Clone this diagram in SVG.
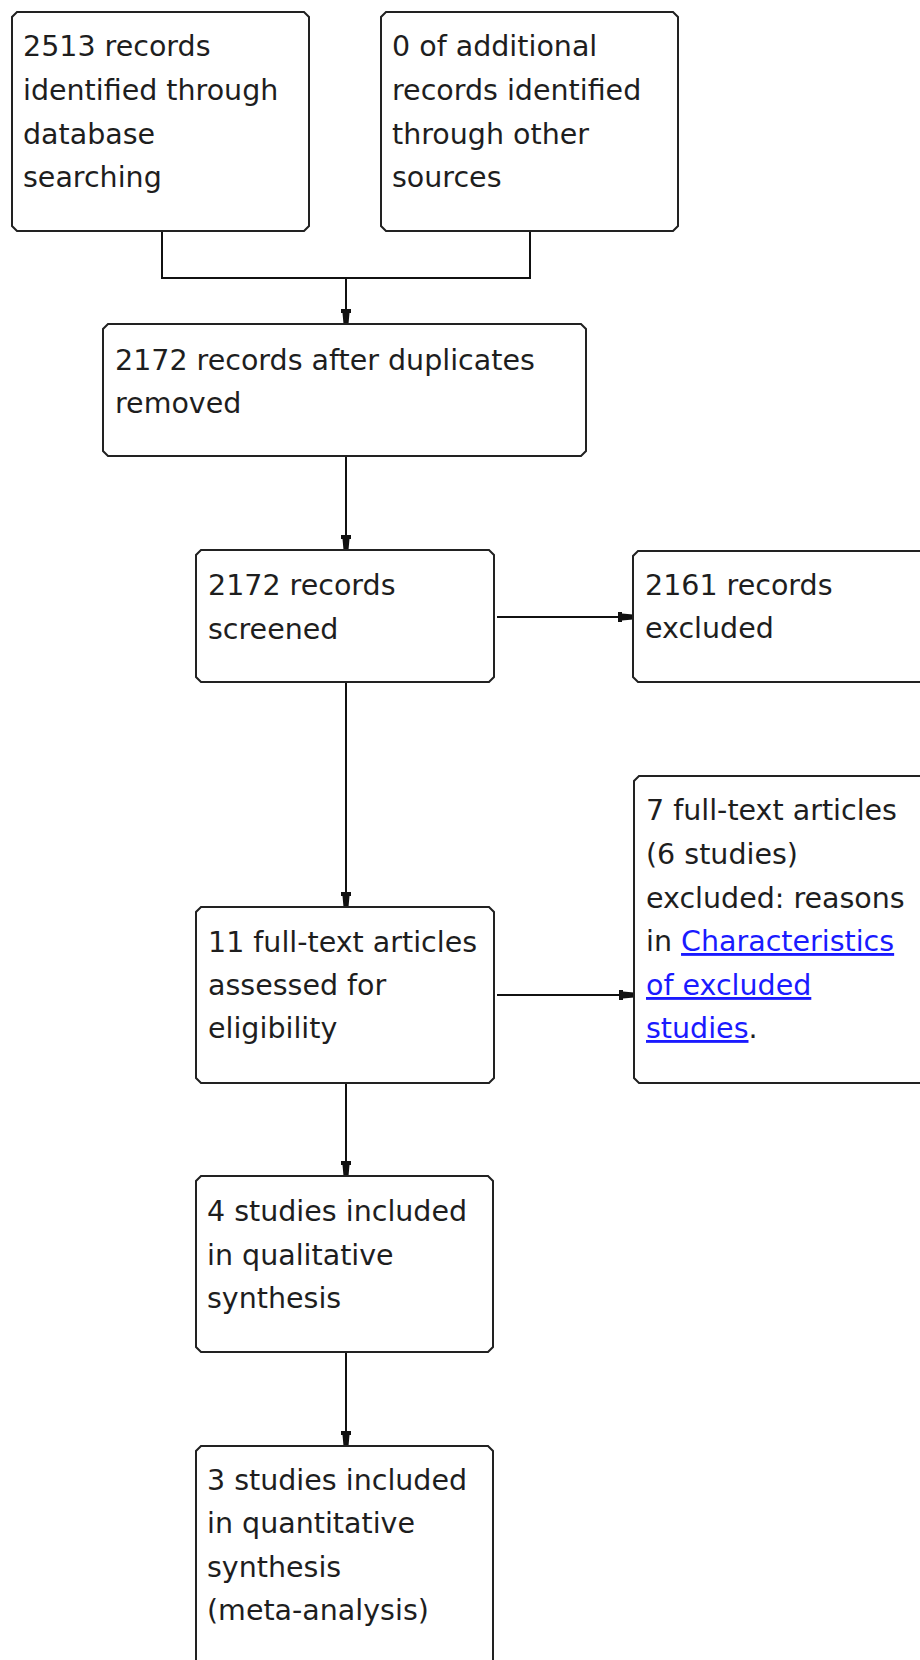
<svg xmlns="http://www.w3.org/2000/svg" width="920" height="1660" viewBox="0 0 920 1660">
<style>
.box{fill:#fff;stroke:#222;stroke-width:2}
.t{font-family:"DejaVu Sans",Verdana,sans-serif;font-size:28.5px;fill:#1e1e1e}
.link{fill:#1a1aff;text-decoration:underline}
.conn{fill:none;stroke:#111;stroke-width:2}
</style>
<defs>
<marker id="arr" markerUnits="userSpaceOnUse" markerWidth="20" markerHeight="14" viewBox="0 -7 16 14" refX="15" refY="0" orient="auto">
<path d="M0,-5 L4,-5 L4,-3.5 L15,-2.5 L15,2.5 L4,3.5 L4,5 L0,5 Z" fill="#111"/>
</marker>
</defs>
<rect width="920" height="1660" fill="#fff"/>

<g id="connectors">
<path class="conn" d="M162,231 V278 H530 V231"/>
<path class="conn" d="M346,278 V324" marker-end="url(#arr)"/>
<path class="conn" d="M346,456 V550" marker-end="url(#arr)"/>
<path class="conn" d="M497,617 H633" marker-end="url(#arr)"/>
<path class="conn" d="M346,682 V907" marker-end="url(#arr)"/>
<path class="conn" d="M497,995 H634" marker-end="url(#arr)"/>
<path class="conn" d="M346,1083 V1176" marker-end="url(#arr)"/>
<path class="conn" d="M346,1352 V1446" marker-end="url(#arr)"/>
</g>

<g id="node-identified">
<path class="box" d="M17,12 H304 L309,17 V226 L304,231 H17 L12,226 V17 Z"/>
<text class="t" x="23" y="56">2513 records</text>
<text class="t" x="23" y="100">identified through</text>
<text class="t" x="23" y="144">database</text>
<text class="t" x="23" y="187">searching</text>
</g>

<g id="node-additional">
<path class="box" d="M386,12 H673 L678,17 V226 L673,231 H386 L381,226 V17 Z"/>
<text class="t" x="392" y="56">0 of additional</text>
<text class="t" x="392" y="100">records identified</text>
<text class="t" x="392" y="144">through other</text>
<text class="t" x="392" y="187">sources</text>
</g>

<g id="node-duplicates">
<path class="box" d="M108,324 H581 L586,329 V451 L581,456 H108 L103,451 V329 Z"/>
<text class="t" x="115" y="370">2172 records after duplicates</text>
<text class="t" x="115" y="413">removed</text>
</g>

<g id="node-screened">
<path class="box" d="M201,550 H489 L494,555 V677 L489,682 H201 L196,677 V555 Z"/>
<text class="t" x="208" y="595">2172 records</text>
<text class="t" x="208" y="639">screened</text>
</g>

<g id="node-excluded">
<path class="box" d="M638,551 H945 V682 H638 L633,677 V556 Z"/>
<text class="t" x="645" y="595">2161 records</text>
<text class="t" x="645" y="638">excluded</text>
</g>

<g id="node-fulltext">
<path class="box" d="M201,907 H489 L494,912 V1078 L489,1083 H201 L196,1078 V912 Z"/>
<text class="t" x="208" y="952">11 full-text articles</text>
<text class="t" x="208" y="995">assessed for</text>
<text class="t" x="208" y="1038">eligibility</text>
</g>

<g id="node-fulltext-excluded">
<path class="box" d="M639,776 H945 V1083 H639 L634,1078 V781 Z"/>
<text class="t" x="646" y="820">7 full-text articles</text>
<text class="t" x="646" y="864">(6 studies)</text>
<text class="t" x="646" y="908">excluded: reasons</text>
<text class="t" x="646" y="951">in <tspan class="link">Characteristics</tspan></text>
<text class="t" x="646" y="995"><tspan class="link">of excluded</tspan></text>
<text class="t" x="646" y="1038"><tspan class="link">studies</tspan>.</text>
</g>

<g id="node-qualitative">
<path class="box" d="M201,1176 H488 L493,1181 V1347 L488,1352 H201 L196,1347 V1181 Z"/>
<text class="t" x="207" y="1221">4 studies included</text>
<text class="t" x="207" y="1265">in qualitative</text>
<text class="t" x="207" y="1308">synthesis</text>
</g>

<g id="node-quantitative">
<path class="box" d="M201,1446 H488 L493,1451 V1680 H196 V1451 Z"/>
<text class="t" x="207" y="1490">3 studies included</text>
<text class="t" x="207" y="1533">in quantitative</text>
<text class="t" x="207" y="1577">synthesis</text>
<text class="t" x="207" y="1620">(meta-analysis)</text>
</g>
</svg>
